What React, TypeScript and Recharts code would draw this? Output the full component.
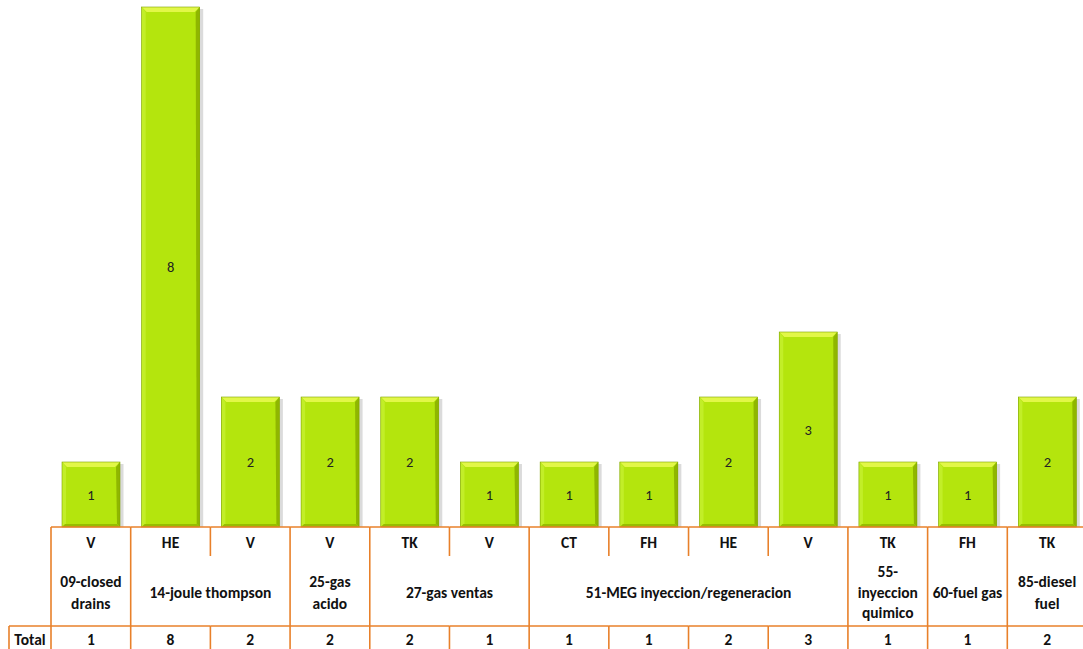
import React from "react";
import { BarChart, Bar, XAxis, YAxis, LabelList } from "recharts";

// Equipment counts by type, grouped by plant system
const subcats = ["V", "HE", "V", "V", "TK", "V", "CT", "FH", "HE", "V", "TK", "FH", "TK"];
const counts = [1, 8, 2, 2, 2, 1, 1, 1, 2, 3, 1, 1, 2];
const groupLabels: string[][] = [
  ["09-closed", "drains"],
  ["14-joule thompson"],
  ["25-gas", "acido"],
  ["27-gas ventas"],
  ["51-MEG inyeccion/regeneracion"],
  ["55-", "inyeccion", "quimico"],
  ["60-fuel gas"],
  ["85-diesel", "fuel"],
];
const groupSpans = [1, 2, 1, 2, 4, 1, 1, 1];
const totalLabel = "Total";

const data = subcats.map((s, i) => ({ sub: s, value: counts[i] }));

// which group each category belongs to, and whether it opens that group
const groupStart: number[] = [];
const groupOf: number[] = [];
groupSpans.forEach((n, g) => {
  for (let k = 0; k < n; k++) {
    groupOf.push(g);
    groupStart.push(k === 0 ? g : -1);
  }
});

const CW = 1095;
const CH = 649;
const M = { top: 7, right: 8, left: 51, bottom: 0 };
const AXIS_H = 122;
const BAND = (CW - M.left - M.right) / data.length;
const TOP = CH - AXIS_H; // table top
const ROW1 = TOP + 29; // end of type row
const ROW3 = 626; // start of totals row
const ORANGE = "#e8802a";
const FONT = "Carlito, Lato, 'Open Sans', sans-serif";
const FS = 15.5;

const TableTick = (props: any) => {
  const { payload, index } = props;
  const i = typeof index === "number" ? index : payload.index;
  const cx = payload.coordinate;
  const l = cx - BAND / 2;
  const r = cx + BAND / 2;
  const g = groupOf[i];
  const opens = groupStart[i] >= 0;
  const els: React.ReactNode[] = [];
  const txt = { textAnchor: "middle" as const, dominantBaseline: "central" as const, fontSize: FS, fontWeight: "bold", fill: "#111", fontFamily: FONT };
  // horizontal rules
  els.push(<line key="h1" x1={l} x2={r} y1={TOP} y2={TOP} stroke={ORANGE} strokeWidth={1.6} />);
  els.push(<line key="h3" x1={l} x2={r} y1={ROW3} y2={ROW3} stroke={ORANGE} strokeWidth={1.6} />);
  // left border: full height at group start, split otherwise
  if (opens) {
    els.push(<line key="vl" x1={l} x2={l} y1={TOP} y2={CH} stroke={ORANGE} strokeWidth={1.6} />);
  } else {
    els.push(<line key="vla" x1={l} x2={l} y1={TOP} y2={ROW1} stroke={ORANGE} strokeWidth={1.6} />);
    els.push(<line key="vlb" x1={l} x2={l} y1={ROW3} y2={CH} stroke={ORANGE} strokeWidth={1.6} />);
  }
  if (i === data.length - 1) {
    els.push(<line key="vr" x1={r} x2={r} y1={TOP} y2={CH} stroke={ORANGE} strokeWidth={1.6} />);
  }
  els.push(
    <text key="sub" x={cx} y={TOP + 15} {...txt}>
      {subcats[i]}
    </text>
  );
  els.push(
    <text key="tot" x={cx} y={ROW3 + 13} {...txt}>
      {counts[i]}
    </text>
  );
  if (opens) {
    const span = groupSpans[g];
    const gcx = l + (span * BAND) / 2;
    const lines = groupLabels[g];
    const lh = lines.length === 3 ? 20.5 : 22;
    const mid = (ROW1 + ROW3) / 2 + 1;
    lines.forEach((t, k) => {
      els.push(
        <text key={"g" + k} x={gcx} y={mid + (k - (lines.length - 1) / 2) * lh} {...txt}>
          {t}
        </text>
      );
    });
  }
  if (i === 0) {
    const x0 = 9;
    els.push(<line key="tl" x1={x0} x2={l} y1={ROW3} y2={ROW3} stroke={ORANGE} strokeWidth={1.6} />);
    els.push(<line key="tv" x1={x0} x2={x0} y1={ROW3} y2={CH} stroke={ORANGE} strokeWidth={1.6} />);
    els.push(
      <text key="tt" x={(x0 + l) / 2} y={ROW3 + 13} {...txt}>
        {totalLabel}
      </text>
    );
  }
  return <g>{els}</g>;
};

// bevelled bar with a soft shadow on the right
const BevelBar = (props: any) => {
  const { x, y, width: w, height: h } = props;
  if (!h || h <= 0) return null;
  const b = 5;
  return (
    <g>
      <rect x={x + 2} y={y + 2} width={w + 1.5} height={h - 2} fill="#bdbdbd" opacity={0.55} />
      <rect x={x} y={y} width={w} height={h} fill="#b4e50d" />
      <polygon points={`${x},${y} ${x + w},${y} ${x + w - b},${y + b} ${x + b},${y + b}`} fill="#e2f748" />
      <polygon points={`${x},${y} ${x + b - 1},${y + b} ${x + b - 1},${y + h - 3} ${x},${y + h}`} fill="#c2ee28" />
      <polygon points={`${x + w},${y} ${x + w},${y + h} ${x + w - 3},${y + h - 3} ${x + w - b + 1},${y + b}`} fill="#8fb600" />
      <polygon points={`${x},${y + h} ${x + w},${y + h} ${x + w - 3},${y + h - 3} ${x + 3},${y + h - 3}`} fill="#97bd00" />
      <rect x={x} y={y} width={w} height={h} fill="none" stroke="#7fa300" strokeWidth={0.6} />
    </g>
  );
};

export default function App() {
  return (
    <div style={{ position: "absolute", left: 0, top: 0, width: 1083, height: 649, overflow: "hidden", background: "#fff" }}>
      <BarChart width={CW} height={CH} data={data} margin={M}>
        <XAxis
          dataKey="sub"
          height={AXIS_H}
          axisLine={false}
          tickLine={false}
          tickSize={0}
          tickMargin={0}
          interval={0}
          allowDuplicatedCategory
          tick={<TableTick />}
        />
        <YAxis hide domain={[0, 8]} />
        <Bar dataKey="value" barSize={58} shape={<BevelBar />} isAnimationActive={false}>
          <LabelList dataKey="value" position="center" fill="#222" fontSize={14.5} fontFamily={FONT} />
        </Bar>
      </BarChart>
    </div>
  );
}
